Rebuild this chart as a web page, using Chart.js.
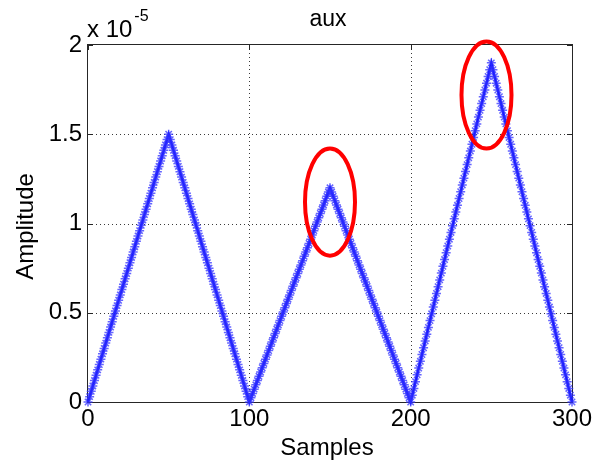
<!DOCTYPE html>
<html><head><meta charset="utf-8">
<style>html,body{margin:0;padding:0;background:#fff}canvas{display:block}</style>
<script src="https://cdn.jsdelivr.net/npm/chart.js@4.4.1/dist/chart.umd.min.js"></script>
</head><body>
<canvas id="c" width="595" height="468"></canvas>
<script>
const chartTitle = 'aux';
const xAxisLabel = 'Samples';
const yAxisLabel = 'Amplitude';
const yExponent = '-5';
const xTicks = [0, 100, 200, 300];
const yTicks = [0, 0.5, 1, 1.5, 2];
// amplitude per sample, in units of 1e-5 (sample index = position)
const amplitude = [
0,.03,.06,.09,.12,.15,.18,.21,.24,.27,.3,.33,.36,.39,.42,.45,.48,.51,.54,.57,.6,.63,.66,.69,.72,.75,.78,.81,.84,.87,.9,.93,.96,.99,1.02,1.05,1.08,1.11,1.14,1.17,1.2,1.23,1.26,1.29,1.32,1.35,1.38,1.41,1.44,1.47,1.5,
1.47,1.44,1.41,1.38,1.35,1.32,1.29,1.26,1.23,1.2,1.17,1.14,1.11,1.08,1.05,1.02,.99,.96,.93,.9,.87,.84,.81,.78,.75,.72,.69,.66,.63,.6,.57,.54,.51,.48,.45,.42,.39,.36,.33,.3,.27,.24,.21,.18,.15,.12,.09,.06,.03,0,
.024,.048,.072,.096,.12,.144,.168,.192,.216,.24,.264,.288,.312,.336,.36,.384,.408,.432,.456,.48,.504,.528,.552,.576,.6,.624,.648,.672,.696,.72,.744,.768,.792,.816,.84,.864,.888,.912,.936,.96,.984,1.008,1.032,1.056,1.08,1.104,1.128,1.152,1.176,1.2,
1.176,1.152,1.128,1.104,1.08,1.056,1.032,1.008,.984,.96,.936,.912,.888,.864,.84,.816,.792,.768,.744,.72,.696,.672,.648,.624,.6,.576,.552,.528,.504,.48,.456,.432,.408,.384,.36,.336,.312,.288,.264,.24,.216,.192,.168,.144,.12,.096,.072,.048,.024,0,
.038,.076,.114,.152,.19,.228,.266,.304,.342,.38,.418,.456,.494,.532,.57,.608,.646,.684,.722,.76,.798,.836,.874,.912,.95,.988,1.026,1.064,1.102,1.14,1.178,1.216,1.254,1.292,1.33,1.368,1.406,1.444,1.482,1.52,1.558,1.596,1.634,1.672,1.71,1.748,1.786,1.824,1.862,1.9,
1.862,1.824,1.786,1.748,1.71,1.672,1.634,1.596,1.558,1.52,1.482,1.444,1.406,1.368,1.33,1.292,1.254,1.216,1.178,1.14,1.102,1.064,1.026,.988,.95,.912,.874,.836,.798,.76,.722,.684,.646,.608,.57,.532,.494,.456,.418,.38,.342,.304,.266,.228,.19,.152,.114,.076,.038,0
];
// highlighted peaks: [sample, amplitude]
const highlightCenters = [[150, 1.12], [247, 1.72]];

const FONT = '"Liberation Sans", Arial, Helvetica, sans-serif';
Chart.defaults.font.family = FONT;
Chart.defaults.color = '#000';

const points = amplitude.map((v, i) => ({x: i, y: v}));

const decor = {
  id: 'decor',
  beforeDatasetsDraw(chart) {
    const {ctx, chartArea: a, scales: {x, y}} = chart;
    ctx.save();
    ctx.strokeStyle = '#3a3a3a';
    ctx.lineWidth = 1;
    ctx.setLineDash([1, 3]);
    ctx.beginPath();
    xTicks.forEach(v => {
      if (v <= x.min || v >= x.max) return;
      const px = Math.round(x.getPixelForValue(v)) + 0.5;
      ctx.moveTo(px, a.top); ctx.lineTo(px, a.bottom);
    });
    yTicks.forEach(v => {
      if (v <= y.min || v >= y.max) return;
      const py = Math.round(y.getPixelForValue(v)) + 0.5;
      ctx.moveTo(a.left, py); ctx.lineTo(a.right, py);
    });
    ctx.stroke();
    ctx.setLineDash([]);
    ctx.strokeStyle = '#262626';
    ctx.beginPath();
    const tl = 5;
    xTicks.forEach(v => {
      const px = Math.round(x.getPixelForValue(v)) + 0.5;
      ctx.moveTo(px, a.bottom); ctx.lineTo(px, a.bottom - tl);
      ctx.moveTo(px, a.top); ctx.lineTo(px, a.top + tl);
    });
    yTicks.forEach(v => {
      const py = Math.round(y.getPixelForValue(v)) + 0.5;
      ctx.moveTo(a.left, py); ctx.lineTo(a.left + tl, py);
      ctx.moveTo(a.right, py); ctx.lineTo(a.right - tl, py);
    });
    ctx.stroke();
    ctx.strokeRect(Math.round(a.left) - 0.5, Math.round(a.top) - 0.5,
                   Math.round(a.right - a.left) + 1, Math.round(a.bottom - a.top) + 1);
    ctx.restore();
  },
  afterDatasetsDraw(chart, args, opts) {
    const {ctx, scales: {x, y}} = chart;
    ctx.save();
    ctx.strokeStyle = '#ff0000';
    ctx.lineWidth = 4;
    highlightCenters.forEach(([cx, cy]) => {
      const px = x.getPixelForValue(cx), py = y.getPixelForValue(cy);
      const rx = Math.abs(x.getPixelForValue(cx + opts.rx) - px);
      const ry = Math.abs(y.getPixelForValue(cy + opts.ry) - py);
      ctx.beginPath();
      ctx.ellipse(px, py, rx, ry, 0, 0, Math.PI * 2);
      ctx.stroke();
    });
    ctx.restore();
  },
  afterDraw(chart) {
    const {ctx, chartArea: a} = chart;
    ctx.save();
    ctx.fillStyle = '#000';
    ctx.textBaseline = 'alphabetic';
    ctx.font = '23px ' + FONT;
    ctx.textAlign = 'center';
    ctx.fillText(chartTitle, (a.left + a.right) / 2 - 2, 26);
    ctx.textAlign = 'left';
    ctx.font = '24px ' + FONT;
    const base = 'x 10';
    ctx.fillText(base, a.left - 1, 37);
    const w = ctx.measureText(base).width;
    ctx.font = '16px ' + FONT;
    ctx.fillText(yExponent, a.left - 1 + w + 2, 21);
    ctx.font = '24px ' + FONT;
    ctx.textAlign = 'center';
    ctx.fillText(xAxisLabel, (a.left + a.right) / 2 - 3, 455);
    ctx.translate(33, 226.5);
    ctx.rotate(-Math.PI / 2);
    ctx.fillText(yAxisLabel, 0, 0);
    ctx.restore();
  }
};

new Chart(document.getElementById('c'), {
  type: 'line',
  data: {
    datasets: [{
      data: points,
      borderColor: '#0000ff',
      borderWidth: 2.5,
      pointStyle: 'star',
      pointRadius: 4.5,
      pointBorderWidth: 1.5,
      pointBorderColor: 'rgba(50,50,255,0.75)',
      pointBackgroundColor: '#0000ff',
      tension: 0,
      clip: false
    }]
  },
  options: {
    responsive: false,
    animation: false,
    devicePixelRatio: 1,
    layout: {padding: {top: 45, right: 23, left: 0, bottom: 0}},
    plugins: {
      legend: {display: false},
      tooltip: {enabled: false},
      title: {display: false},
      decor: {rx: 15.5, ry: 0.30}
    },
    scales: {
      x: {
        type: 'linear', min: 0, max: 300,
        afterBuildTicks: s => { s.ticks = xTicks.map(v => ({value: v})); },
        ticks: {font: {size: 24}, color: '#000', padding: 3, maxRotation: 0, autoSkip: false,
                callback: v => String(v)},
        grid: {display: false, drawTicks: false},
        border: {display: false},
        afterFit: s => { s.height = 66; s.paddingLeft = 0; s.paddingRight = 0; }
      },
      y: {
        type: 'linear', min: 0, max: 2,
        afterBuildTicks: s => { s.ticks = yTicks.map(v => ({value: v})); },
        ticks: {font: {size: 24}, color: '#000', padding: 6, autoSkip: false,
                callback: v => String(v)},
        grid: {display: false, drawTicks: false},
        border: {display: false},
        afterFit: s => { s.width = 88; s.paddingTop = 0; s.paddingBottom = 0; }
      }
    }
  },
  plugins: [decor]
});
</script>
</body></html>
